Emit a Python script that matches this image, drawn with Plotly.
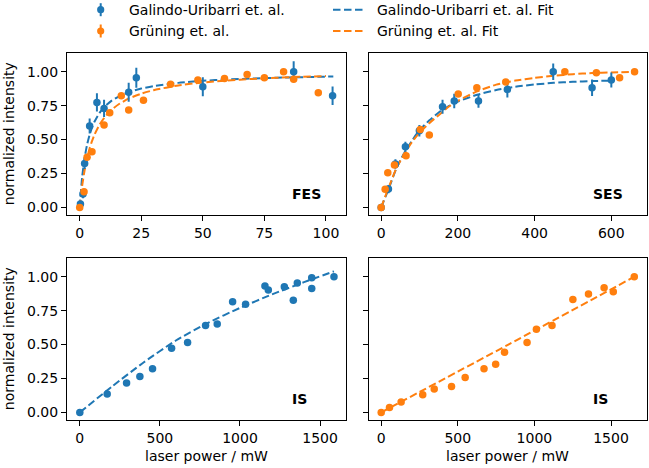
import plotly.graph_objects as go

W, H = 649, 468
BLUE = "#1f77b4"
ORANGE = "#ff7f0e"
FONT = "DejaVu Sans"
FS = 14

# ---------------- data ----------------
# FES
fes_gu_x = [0.3, 1.35, 2.0, 4.05, 7.0, 9.9, 19.9, 23.0, 50.0, 86.9, 102.7]
fes_gu_y = [0.025, 0.098, 0.324, 0.60, 0.774, 0.73, 0.848, 0.956, 0.89, 1.0, 0.823]
fes_gu_err = [0.02, 0.03, 0.04, 0.055, 0.067, 0.064, 0.07, 0.074, 0.07, 0.077, 0.068]
fes_gr_x = [0.0, 1.76, 3.0, 5.0, 9.9, 12.2, 16.9, 19.9, 25.9, 36.9, 48.0, 58.8, 68.0, 75.0, 82.8, 86.9, 96.9]
fes_gr_y = [0.0, 0.115, 0.369, 0.41, 0.607, 0.698, 0.823, 0.718, 0.79, 0.907, 0.939, 0.951, 0.98, 0.956, 1.0, 0.944, 0.846]
fes_gu_fit_x = [0, 1, 2, 3, 4, 5, 6, 8, 10, 13, 16, 20, 25, 30, 40, 50, 60, 70, 80, 90, 103]
fes_gu_fit_y = [0.0, 0.223, 0.364, 0.462, 0.533, 0.588, 0.631, 0.695, 0.740, 0.787, 0.819, 0.850,
                0.876, 0.894, 0.918, 0.933, 0.943, 0.950, 0.956, 0.960, 0.965]
fes_gr_fit_x = [0, 1, 2, 3, 4, 5, 6, 8, 10, 13, 16, 20, 25, 30, 40, 50, 60, 70, 80, 90, 100]
fes_gr_fit_y = [0.0, 0.159, 0.274, 0.363, 0.433, 0.489, 0.536, 0.608, 0.661, 0.720, 0.762, 0.803,
                0.838, 0.864, 0.899, 0.921, 0.936, 0.947, 0.956, 0.963, 0.968]

# SES
ses_gu_x = [0.0, 19.0, 37.2, 63.2, 99.6, 160.0, 190.5, 253.7, 329.0, 448.5, 549.8, 600.0]
ses_gu_y = [0.0, 0.135, 0.32, 0.447, 0.565, 0.742, 0.784, 0.784, 0.87, 1.0, 0.882, 0.939]
ses_gu_err = [0.02, 0.03, 0.035, 0.037, 0.043, 0.052, 0.053, 0.05, 0.06, 0.06, 0.06, 0.055]
ses_gr_x = [0.0, 10.4, 17.3, 34.6, 64.9, 102.0, 125.5, 200.9, 249.4, 324.7, 478.8, 561.0, 621.6, 660.6]
ses_gr_y = [0.0, 0.133, 0.256, 0.312, 0.381, 0.575, 0.533, 0.836, 0.882, 0.924, 1.0, 0.993, 0.956, 1.0]
ses_gu_fit_x = [0, 20, 40, 60, 80, 100, 125, 150, 175, 200, 250, 300, 350, 400, 450, 500, 550, 600]
ses_gu_fit_y = [0.0, 0.14, 0.29, 0.40, 0.49, 0.57, 0.64, 0.70, 0.745, 0.78, 0.83, 0.865, 0.89,
                0.906, 0.918, 0.926, 0.931, 0.935]
ses_gr_fit_x = [0, 20, 40, 60, 80, 100, 125, 150, 175, 200, 250, 300, 350, 400, 450, 500, 550, 600, 660]
ses_gr_fit_y = [0.0, 0.15, 0.29, 0.39, 0.48, 0.55, 0.62, 0.68, 0.74, 0.785, 0.855, 0.905, 0.935,
                0.955, 0.97, 0.982, 0.99, 0.995, 1.0]

# IS (Galindo-Uribarri)
is_gu_x = [0, 171, 292, 375, 454, 573, 673, 785, 858, 954, 1035, 1156, 1177, 1277, 1333, 1358, 1448, 1448, 1587]
is_gu_y = [0.0, 0.135, 0.216, 0.265, 0.321, 0.473, 0.515, 0.64, 0.652, 0.816, 0.797, 0.931, 0.902,
           0.926, 0.826, 0.953, 0.993, 0.914, 1.0]
is_gu_fit_x = [0, 200, 400, 600, 800, 1000, 1200, 1400, 1587]
is_gu_fit_y = [0.0, 0.19, 0.37, 0.53, 0.66, 0.77, 0.87, 0.96, 1.04]

# IS (Grüning)
is_gr_x = [0, 54, 130, 271, 346, 459, 548, 671, 747, 805, 952, 1013, 1115, 1251, 1353, 1455, 1515, 1652]
is_gr_y = [0.0, 0.037, 0.076, 0.13, 0.172, 0.191, 0.257, 0.321, 0.355, 0.444, 0.515, 0.613, 0.64,
           0.833, 0.873, 0.919, 0.89, 1.0]
is_gr_fit_x = [0, 830, 1652]
is_gr_fit_y = [0.0, 0.5, 1.0]

yticks = [0.0, 0.25, 0.5, 0.75, 1.0]
legend_labels = ["Galindo-Uribarri et. al.", "Grüning et. al.",
                 "Galindo-Uribarri et. al. Fit", "Grüning et. al. Fit"]
panel_labels = ["FES", "SES", "IS", "IS"]

# ---------------- figure ----------------
fig = go.Figure()


def pts(x, y, color, ax, err=None):
    tr = dict(x=x, y=y, mode="markers", xaxis=ax[0], yaxis=ax[1], showlegend=False,
              marker=dict(color=color, size=7.5, line=dict(width=0)))
    if err is not None:
        tr["error_y"] = dict(type="data", array=err, visible=True, color=color, thickness=2, width=0)
    fig.add_trace(go.Scatter(**tr))


def fit(x, y, color, ax):
    fig.add_trace(go.Scatter(x=x, y=y, mode="lines", xaxis=ax[0], yaxis=ax[1], showlegend=False,
                             line=dict(color=color, width=2, dash="7.5px,3.3px", shape="spline", smoothing=0.6)))


# FES
fit(fes_gu_fit_x, fes_gu_fit_y, BLUE, ("x", "y"))
fit(fes_gr_fit_x, fes_gr_fit_y, ORANGE, ("x", "y"))
pts(fes_gu_x, fes_gu_y, BLUE, ("x", "y"), fes_gu_err)
pts(fes_gr_x, fes_gr_y, ORANGE, ("x", "y"))
# SES
fit(ses_gu_fit_x, ses_gu_fit_y, BLUE, ("x2", "y2"))
fit(ses_gr_fit_x, ses_gr_fit_y, ORANGE, ("x2", "y2"))
pts(ses_gu_x, ses_gu_y, BLUE, ("x2", "y2"), ses_gu_err)
pts(ses_gr_x, ses_gr_y, ORANGE, ("x2", "y2"))
# IS
fit(is_gu_fit_x, is_gu_fit_y, BLUE, ("x3", "y3"))
pts(is_gu_x, is_gu_y, BLUE, ("x3", "y3"))
fit(is_gr_fit_x, is_gr_fit_y, ORANGE, ("x4", "y4"))
pts(is_gr_x, is_gr_y, ORANGE, ("x4", "y4"))


def px(v):
    return v / W


def py(v):
    return 1 - v / H


LX = [px(67), px(346)]
RX = [px(368.5), px(647)]
TY = [py(215), py(53.3)]
BY = [py(420), py(258.3)]

common = dict(showline=True, linecolor="black", linewidth=1, mirror=True, ticks="outside",
              ticklen=5, tickwidth=1, tickcolor="black", showgrid=False, zeroline=False,
              tickfont=dict(family=FONT, size=FS, color="black"))
yr = [-0.056, 1.136]

layout = dict(
    width=W, height=H, margin=dict(l=0, r=0, t=0, b=0),
    paper_bgcolor="white", plot_bgcolor="white",
    font=dict(family=FONT, size=FS, color="black"),
    xaxis=dict(domain=LX, anchor="y", range=[-5.15, 108.15], tickvals=[0, 25, 50, 75, 100], **common),
    yaxis=dict(domain=TY, anchor="x", range=yr, tickvals=yticks, tickformat=".2f", **common),
    xaxis2=dict(domain=RX, anchor="y2", range=[-33, 693], tickvals=[0, 200, 400, 600], **common),
    yaxis2=dict(domain=TY, anchor="x2", range=yr, tickvals=yticks, showticklabels=False, **common),
    xaxis3=dict(domain=LX, anchor="y3", range=[-80, 1662], tickvals=[0, 500, 1000, 1500], **common),
    yaxis3=dict(domain=BY, anchor="x3", range=yr, tickvals=yticks, tickformat=".2f", **common),
    xaxis4=dict(domain=RX, anchor="y4", range=[-83, 1735], tickvals=[0, 500, 1000, 1500], **common),
    yaxis4=dict(domain=BY, anchor="x4", range=yr, tickvals=yticks, showticklabels=False, **common),
)
fig.update_layout(**layout)

ann = []
# panel labels
for lab, xr, yref in zip(panel_labels, ["x domain", "x2 domain", "x3 domain", "x4 domain"],
                         ["y domain", "y2 domain", "y3 domain", "y4 domain"]):
    ann.append(dict(text="<b>" + lab + "</b>", xref=xr, yref=yref, x=0.8, y=0.13,
                    xanchor="left", yanchor="middle", showarrow=False,
                    font=dict(family=FONT, size=FS, color="black")))
# axis titles
for yc in [(53.3 + 215) / 2, (258.3 + 420) / 2]:
    ann.append(dict(text="normalized intensity", xref="paper", yref="paper", x=px(9), y=py(yc),
                    textangle=-90, xanchor="center", yanchor="middle", showarrow=False,
                    font=dict(family=FONT, size=FS, color="black")))
for xc in [(67 + 346) / 2, (368.5 + 647) / 2]:
    ann.append(dict(text="laser power / mW", xref="paper", yref="paper", x=px(xc), y=py(456),
                    xanchor="center", yanchor="middle", showarrow=False,
                    font=dict(family=FONT, size=FS, color="black")))

# legend (manual)
shapes = []
leg_rows = [9.7, 31.0]
for (lab, col, yy) in [(legend_labels[0], BLUE, leg_rows[0]), (legend_labels[1], ORANGE, leg_rows[1])]:
    shapes.append(dict(type="line", xref="paper", yref="paper", x0=px(100.7), x1=px(100.7),
                       y0=py(yy - 6.5), y1=py(yy + 6.5), line=dict(color=col, width=2)))
    shapes.append(dict(type="circle", xref="paper", yref="paper", x0=px(97.1), x1=px(104.3),
                       y0=py(yy - 3.6), y1=py(yy + 3.6), fillcolor=col, line=dict(color=col, width=0)))
    ann.append(dict(text=lab, xref="paper", yref="paper", x=px(127), y=py(yy), xanchor="left",
                    yanchor="middle", showarrow=False, font=dict(family=FONT, size=FS, color="black")))
for (lab, col, yy) in [(legend_labels[2], BLUE, leg_rows[0]), (legend_labels[3], ORANGE, leg_rows[1])]:
    shapes.append(dict(type="line", xref="paper", yref="paper", x0=px(333), x1=px(365),
                       y0=py(yy), y1=py(yy), line=dict(color=col, width=2, dash="7.5px,3.5px")))
    ann.append(dict(text=lab, xref="paper", yref="paper", x=px(375), y=py(yy), xanchor="left",
                    yanchor="middle", showarrow=False, font=dict(family=FONT, size=FS, color="black")))

fig.update_layout(annotations=ann, shapes=shapes)
fig.write_html("out.html")
